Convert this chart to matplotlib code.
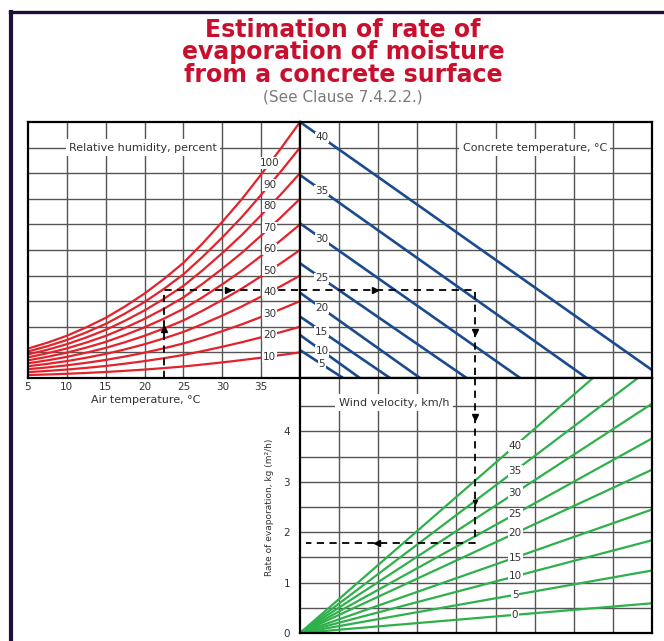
import numpy as np
import matplotlib
matplotlib.use("Agg")
import matplotlib.pyplot as plt
from matplotlib.lines import Line2D

# air temperature axis and the saturation (100 %) curve, in grid units
air_temp = [5, 7.5, 10, 12.5, 15, 17.5, 20, 22.5, 25, 27.5, 30, 32.5, 35, 37.5, 40]
sat_level = [1.15, 1.38, 1.65, 1.98, 2.35, 2.8, 3.3, 3.87, 4.5, 5.27, 6.1, 6.98, 7.95, 8.95, 10.0]
humidity = [10, 20, 30, 40, 50, 60, 70, 80, 90, 100]

# concrete temperature lines: level on the left edge, x where they reach the bottom
conc_temp = [5, 10, 15, 20, 25, 30, 35, 40]
conc_level = [1.09, 1.68, 2.4, 3.33, 4.48, 6.04, 7.93, 10.0]
conc_reach = [1.1, 1.53, 2.3, 3.07, 4.26, 5.63, 7.33, 9.29]

# wind velocity lines: rate of evaporation reached at the right edge (x = 9)
wind = [0, 5, 10, 15, 20, 25, 30, 35, 40]
wind_rate = [0.59, 1.24, 1.84, 2.45, 3.24, 3.86, 4.55, 5.27, 6.08]

# worked example drawn with the dashed line
ex_air = 22.5
ex_level = 3.45
ex_x = 4.48
ex_rate = 1.78

RED = "#e3222b"
BLUE = "#1c4a8e"
GREEN = "#2eb04b"
GRID = "#555555"
TXT = "#333333"

W, H = 664, 641
fig = plt.figure(figsize=(W / 100, H / 100), dpi=100)
plt.rcParams["font.family"] = "DejaVu Sans"


def box(x0, y0, x1, y1):
    return [x0 / W, 1 - y1 / H, (x1 - x0) / W, (y1 - y0) / H]


ax1 = fig.add_axes(box(28, 122, 300, 378))
ax2 = fig.add_axes(box(300, 122, 652, 378))
ax3 = fig.add_axes(box(300, 378, 652, 633))

ax1.set_xlim(5, 40)
ax1.set_ylim(0, 10)
ax2.set_xlim(0, 9)
ax2.set_ylim(0, 10)
ax3.set_xlim(0, 9)
ax3.set_ylim(0, 5.06)

for ax in (ax1, ax2, ax3):
    for s in ax.spines.values():
        s.set_linewidth(1.6)
        s.set_color("black")
        s.set_zorder(6)
    ax.tick_params(length=0, labelsize=7.5, labelcolor=TXT)
    ax.set_xticks([])
    ax.set_yticks([])

# grid
for t in range(10, 40, 5):
    ax1.axvline(t, color=GRID, lw=1.0, zorder=1)
for k in range(1, 10):
    ax1.axhline(k, color=GRID, lw=1.0, zorder=1)
    ax2.axhline(k, color=GRID, lw=1.0, zorder=1)
for k in range(1, 9):
    ax2.axvline(k, color=GRID, lw=1.0, zorder=1)
    ax3.axvline(k, color=GRID, lw=1.0, zorder=1)
for k in np.arange(0.5, 5.0, 0.5):
    ax3.axhline(k, color=GRID, lw=1.0, zorder=1)

lab_box = dict(facecolor="white", edgecolor="none", pad=0.6)
cap_box = dict(facecolor="white", edgecolor="none", pad=2.5)

# relative humidity curves
sat = np.array(sat_level)
sat_at_label = np.interp(36.1, air_temp, sat_level)
for rh in humidity:
    ax1.plot(air_temp, sat * rh / 100, color=RED, lw=1.6, zorder=2)
    ax1.text(36.1, sat_at_label * rh / 100, str(rh), fontsize=7.5, color=TXT,
             ha="center", va="center", bbox=lab_box, zorder=5)

# concrete temperature lines
for t, lv, rc in zip(conc_temp, conc_level, conc_reach):
    ax2.plot([0, rc], [lv, 0], color=BLUE, lw=1.9, zorder=2)
    xl = 0.56
    ax2.text(xl, lv - lv / rc * xl, str(t), fontsize=7.5, color=TXT,
             ha="center", va="center", bbox=lab_box, zorder=5)

# wind velocity lines
for v, r in zip(wind, wind_rate):
    ax3.plot([0, 9], [0, r], color=GREEN, lw=1.6, zorder=2)
    ax3.text(5.5, r / 9 * 5.5, str(v), fontsize=7.5, color=TXT,
             ha="center", va="center", bbox=lab_box, zorder=5)

# dashed worked example
dash = dict(color="black", lw=1.3, ls=(0, (4, 3)), zorder=3)
ax1.plot([ex_air, ex_air, 40], [0, ex_level, ex_level], **dash)
ax2.plot([0, ex_x, ex_x], [ex_level, ex_level, 0], **dash)
ax3.plot([ex_x, ex_x, 0.15], [5.06, ex_rate, ex_rate], **dash)
ax1.plot(ex_air, 1.9, marker="^", color="black", ms=4, zorder=4)
ax1.plot(30.7, ex_level, marker=">", color="black", ms=4, zorder=4)
ax2.plot(1.92, ex_level, marker=">", color="black", ms=4, zorder=4)
ax2.plot(ex_x, 1.8, marker="v", color="black", ms=4, zorder=4)
ax3.plot(ex_x, 4.29, marker="v", color="black", ms=4, zorder=4)
ax3.plot(ex_x, 2.6, marker="v", color="black", ms=3, zorder=4)
ax3.plot(1.97, ex_rate, marker="<", color="black", ms=4, zorder=4)

# panel captions
ax1.text(19.8, 9, "Relative humidity, percent", fontsize=8, color=TXT,
         ha="center", va="center", bbox=cap_box, zorder=5)
ax2.text(6.0, 9, "Concrete temperature, °C", fontsize=8, color=TXT,
         ha="center", va="center", bbox=cap_box, zorder=5)
ax3.text(2.4, 4.57, "Wind velocity, km/h", fontsize=8, color=TXT,
         ha="center", va="center", bbox=cap_box, zorder=5)

# axes ticks
ax1.set_xticks([5, 10, 15, 20, 25, 30, 35])
ax1.tick_params(axis="x", pad=3)
ax3.set_yticks([0, 1, 2, 3, 4])
ax3.tick_params(axis="y", pad=7)
fig.text(146 / W, 1 - 400 / H, "Air temperature, °C", fontsize=8, color=TXT,
         ha="center", va="center")
fig.text(270 / W, 1 - 507 / H, "Rate of evaporation, kg (m²/h)", fontsize=6.5, color=TXT,
         ha="center", va="center", rotation=90)

# title
for line, ypx in [("Estimation of rate of", 30), ("evaporation of moisture", 52),
                  ("from a concrete surface", 75)]:
    fig.text(343 / W, 1 - ypx / H, line, fontsize=17, fontweight="bold",
             color="#c8102e", ha="center", va="center")
fig.text(343 / W, 1 - 97 / H, "(See Clause 7.4.2.2.)", fontsize=11, color="#7a7a7a",
         ha="center", va="center")

# frame
fig.add_artist(Line2D([10 / W, 1], [1 - 12 / H, 1 - 12 / H], color="#1e0f3c", lw=2.4))
fig.add_artist(Line2D([11 / W, 11 / W], [0, 1 - 12 / H], color="#1e0f3c", lw=3.0))

fig.savefig("out.png", dpi=100)
